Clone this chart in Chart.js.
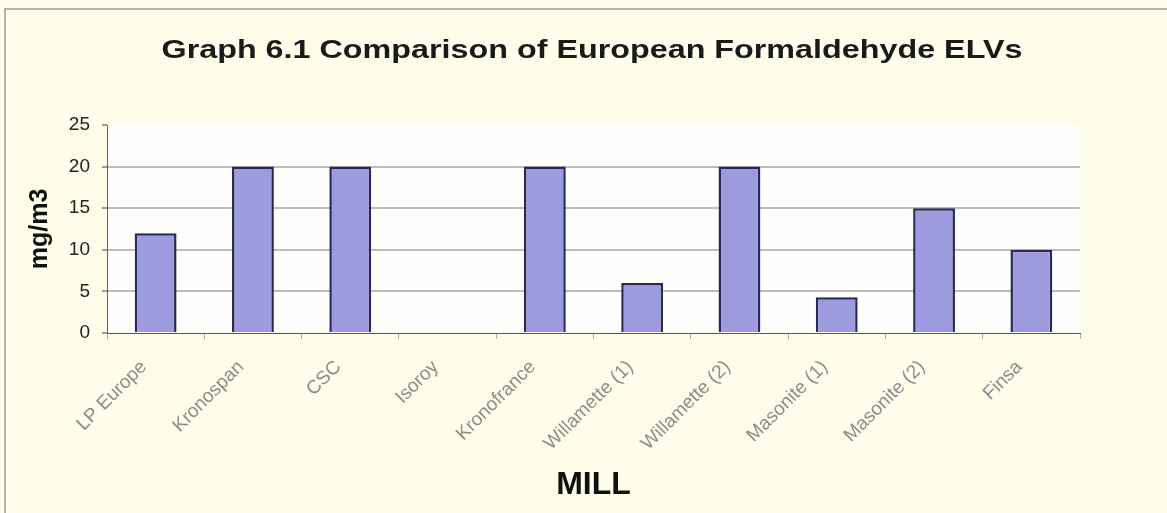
<!DOCTYPE html>
<html>
<head>
<meta charset="utf-8">
<script src="https://cdn.jsdelivr.net/npm/chart.js@4/dist/chart.umd.min.js"></script>
<style>
html,body{margin:0;padding:0;background:#fefde9;}
#wrap{position:relative;width:1167px;height:513px;}
</style>
</head>
<body>
<div id="wrap"><canvas id="c" width="1167" height="513"></canvas></div>
<script>
const categories = ["LP Europe","Kronospan","CSC","Isoroy","Kronofrance","Willamette (1)","Willamette (2)","Masonite (1)","Masonite (2)","Finsa"];
const elvValues = [12, 20, 20, null, 20, 6, 20, 4.3, 15, 10];
const yTicks = [0, 5, 10, 15, 20, 25];
const chartTitle = 'Graph 6.1 Comparison of European Formaldehyde ELVs';

const FONT = 'Liberation Sans, Arial, sans-serif';

const decor = {
  id: 'decor',
  beforeDraw(chart) {
    const {ctx, chartArea: a} = chart;
    ctx.save();
    ctx.strokeStyle = '#b4b4b0';
    ctx.lineWidth = 2;
    ctx.beginPath();
    ctx.moveTo(5, 513); ctx.lineTo(5, 9); ctx.lineTo(1167, 9);
    ctx.stroke();
    ctx.fillStyle = '#fefefc';
    ctx.fillRect(a.left, a.top, a.right - a.left, a.bottom - a.top);
    ctx.restore();
  },
  afterDraw(chart) {
    const {ctx} = chart;
    ctx.save();
    ctx.font = 'bold 26px ' + FONT;
    ctx.fillStyle = '#1a1a1a';
    ctx.textBaseline = 'alphabetic';
    ctx.textAlign = 'center';
    const w = ctx.measureText(chartTitle).width;
    const sx = 861 / w;
    ctx.translate(592, 58);
    ctx.scale(sx, 1);
    ctx.fillText(chartTitle, 0, 0);
    ctx.restore();
  }
};

new Chart(document.getElementById('c'), {
  type: 'bar',
  data: {
    labels: categories,
    datasets: [{
      data: elvValues,
      backgroundColor: '#9e9ae0',
      borderColor: '#2a2856',
      borderWidth: 2.5,
      barPercentage: 0.43,
      categoryPercentage: 1.0
    }]
  },
  options: {
    responsive: false,
    animation: false,
    layout: { padding: { left: 0, right: 87, top: 125, bottom: 0 } },
    plugins: {
      legend: { display: false },
      tooltip: { enabled: false },
      title: { display: false }
    },
    scales: {
      x: {
        afterFit(s) { s.height = 180; },
        grid: { display: true, drawOnChartArea: false, drawTicks: true, tickLength: 6, color: '#aaa', offset: true },
        border: { display: true, color: '#555', width: 1 },
        ticks: {
          color: '#8c8c8c', padding: 17, labelOffset: -12,
          font: { family: FONT, size: 19 },
          minRotation: 45, maxRotation: 45, autoSkip: false
        },
        title: {
          display: true, text: 'MILL', color: '#111',
          font: { family: FONT, size: 32, weight: 'bold' },
          padding: { top: 0, bottom: 9 }
        }
      },
      y: {
        min: 0, max: 25,
        afterFit(s) { s.width = 107; },
        afterBuildTicks(s) { s.ticks = yTicks.map(v => ({ value: v })); },
        grid: {
          color: (c) => c.tick && (c.tick.value === 25 || c.tick.value === 0) ? 'rgba(0,0,0,0)' : '#bcbcbc',
          lineWidth: 2, drawTicks: true, tickLength: 5, tickColor: '#999'
        },
        border: { display: true, color: '#666', width: 1 },
        ticks: {
          color: '#222', padding: 12,
          font: { family: FONT, size: 19 }
        },
        title: {
          display: true, text: 'mg/m3', color: '#111',
          font: { family: FONT, size: 25, weight: 'bold' },
          padding: { top: 25, bottom: 0 }
        }
      }
    }
  },
  plugins: [decor]
});
</script>
</body>
</html>
